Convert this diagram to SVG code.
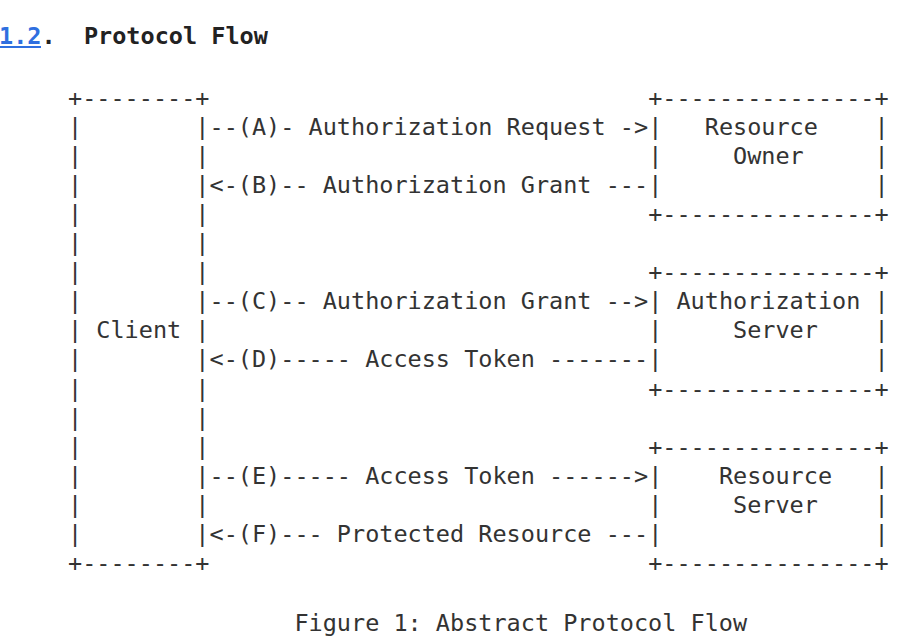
<svg xmlns="http://www.w3.org/2000/svg" width="923" height="643" viewBox="0 0 923 643">
<style>
text{font-family:"DejaVu Sans Mono","Liberation Mono",monospace;font-size:23.5px;fill:#333;white-space:pre}
.title{font-weight:bold;fill:#222}
.link{fill:#2f6fdf}
</style>
<rect width="923" height="643" fill="#fff"/>
<g id="heading">
<text x="-1" y="44" class="title" xml:space="preserve"><tspan class="link">1.2</tspan>.  Protocol Flow</text>
<rect x="0" y="46" width="41" height="2" fill="#2f6fdf"/>
</g>
<g transform="translate(0,1.5)">
<g id="client" xml:space="preserve">
<text x="68" y="104">+--------+</text>
<text x="68" y="133.1">|        |</text>
<text x="68" y="162.2">|        |</text>
<text x="68" y="191.3">|        |</text>
<text x="68" y="220.4">|        |</text>
<text x="68" y="249.5">|        |</text>
<text x="68" y="278.6">|        |</text>
<text x="68" y="307.7">|        |</text>
<text x="68" y="336.8">| Client |</text>
<text x="68" y="365.9">|        |</text>
<text x="68" y="395">|        |</text>
<text x="68" y="424.1">|        |</text>
<text x="68" y="453.2">|        |</text>
<text x="68" y="482.3">|        |</text>
<text x="68" y="511.4">|        |</text>
<text x="68" y="540.5">|        |</text>
<text x="68" y="569.6">+--------+</text>
</g>
<g id="resource-owner" xml:space="preserve">
<text x="648.15" y="104">+---------------+</text>
<text x="648.15" y="133.1">|   Resource    |</text>
<text x="648.15" y="162.2">|     Owner     |</text>
<text x="648.15" y="191.3">|               |</text>
<text x="648.15" y="220.4">+---------------+</text>
</g>
<g id="authorization-server" xml:space="preserve">
<text x="648.15" y="278.6">+---------------+</text>
<text x="648.15" y="307.7">| Authorization |</text>
<text x="648.15" y="336.8">|     Server    |</text>
<text x="648.15" y="365.9">|               |</text>
<text x="648.15" y="395">+---------------+</text>
</g>
<g id="resource-server" xml:space="preserve">
<text x="648.15" y="453.2">+---------------+</text>
<text x="648.15" y="482.3">|    Resource   |</text>
<text x="648.15" y="511.4">|     Server    |</text>
<text x="648.15" y="540.5">|               |</text>
<text x="648.15" y="569.6">+---------------+</text>
</g>
<g id="connectors" xml:space="preserve">
<text x="209.5" y="133.1">--(A)- Authorization Request -&gt;</text>
<text x="209.5" y="191.3">&lt;-(B)-- Authorization Grant ---</text>
<text x="209.5" y="307.7">--(C)-- Authorization Grant --&gt;</text>
<text x="209.5" y="365.9">&lt;-(D)----- Access Token -------</text>
<text x="209.5" y="482.3">--(E)----- Access Token ------&gt;</text>
<text x="209.5" y="540.5">&lt;-(F)--- Protected Resource ---</text>
</g>
<g id="caption">
<text x="294.4" y="629.5">Figure 1: Abstract Protocol Flow</text>
</g>
</g>
</svg>
